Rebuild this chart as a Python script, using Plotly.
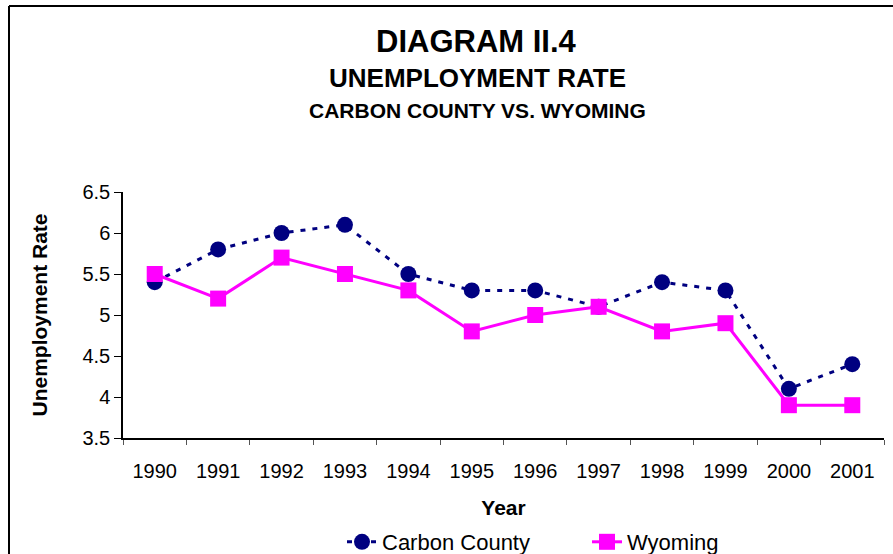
import plotly.graph_objects as go

years = ["1990", "1991", "1992", "1993", "1994", "1995", "1996", "1997", "1998", "1999", "2000", "2001"]
carbon_county = [5.4, 5.8, 6.0, 6.1, 5.5, 5.3, 5.3, 5.1, 5.4, 5.3, 4.1, 4.4]
wyoming = [5.5, 5.2, 5.7, 5.5, 5.3, 4.8, 5.0, 5.1, 4.8, 4.9, 3.9, 3.9]

FONT = "Liberation Sans, Arial, sans-serif"

fig = go.Figure()
fig.add_trace(go.Scatter(
    x=years, y=carbon_county, name="Carbon County", mode="lines+markers",
    line=dict(color="#000080", width=3, dash="5px,7px"),
    marker=dict(symbol="circle", size=16, color="#000080"),
))
fig.add_trace(go.Scatter(
    x=years, y=wyoming, name="Wyoming", mode="lines+markers",
    line=dict(color="#FF00FF", width=3),
    marker=dict(symbol="square", size=16, color="#FF00FF"),
))

L, R, T, B = 123, 9, 192, 116
W, H = 893, 554
pw = W - L - R
ph = H - T - B

def px_x(x):
    return (x - L) / pw

def px_y(y):
    return (H - B - y) / ph

fig.update_layout(
    width=W, height=H,
    margin=dict(l=L, r=R, t=T, b=B, autoexpand=False),
    paper_bgcolor="white", plot_bgcolor="white",
    font=dict(family=FONT, color="black", size=20),
    showlegend=True,
    legend=dict(orientation="h", x=px_x(342), xanchor="left", y=px_y(542), yanchor="middle",
                entrywidth=200, entrywidthmode="pixels",
                font=dict(size=22, family=FONT), bgcolor="rgba(0,0,0,0)"),
    xaxis=dict(
        type="category", range=[-0.5, 11.5], tickson="boundaries", automargin=False,
        ticks="outside", ticklen=5, tickcolor="#555", showline=True, linecolor="black", linewidth=1.5,
        showgrid=False, zeroline=False, tickfont=dict(size=20), ticklabelstandoff=14,
        title=dict(text="<b>Year</b>", font=dict(size=21), standoff=20),
    ),
    yaxis=dict(
        range=[3.5, 6.5], dtick=0.5, tick0=3.5, ticks="outside", ticklen=7, tickcolor="black",
        automargin=False,
        showline=True, linecolor="black", linewidth=1.5, showgrid=False, zeroline=False,
        tickfont=dict(size=20),
        title=dict(text="<b>Unemployment Rate</b>", font=dict(size=21), standoff=29),
    ),
    annotations=[
        dict(text="<b>DIAGRAM II.4</b>", x=px_x(476), y=px_y(42), xref="paper", yref="paper",
             showarrow=False, font=dict(size=31, family=FONT), xanchor="center", yanchor="middle"),
        dict(text="<b>UNEMPLOYMENT RATE</b>", x=px_x(477), y=px_y(78), xref="paper", yref="paper",
             showarrow=False, font=dict(size=26, family=FONT), xanchor="center", yanchor="middle"),
        dict(text="<b>CARBON COUNTY VS. WYOMING</b>", x=px_x(477), y=px_y(110), xref="paper", yref="paper",
             showarrow=False, font=dict(size=21, family=FONT), xanchor="center", yanchor="middle"),
    ],
    shapes=[
        dict(type="line", xref="paper", yref="paper", x0=px_x(9), x1=px_x(900), y0=px_y(6), y1=px_y(6),
             line=dict(color="black", width=2)),
        dict(type="line", xref="paper", yref="paper", x0=px_x(9), x1=px_x(9), y0=px_y(6), y1=px_y(560),
             line=dict(color="black", width=2)),
    ],
)

fig.write_html("out.html", config={"displayModeBar": False},
               post_script="document.body.style.margin='0';document.body.style.overflow='hidden';")
